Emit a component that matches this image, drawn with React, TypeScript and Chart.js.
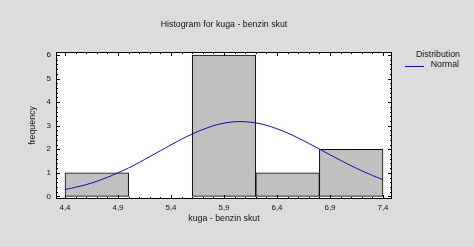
import React, { useEffect, useRef } from "react";
import { Chart, registerables } from "chart.js";

Chart.register(...registerables);

// ---- data ----
const binStarts = [4.4, 5.0, 5.6, 6.2, 6.8];
const binEnds = [5.0, 5.6, 6.2, 6.8, 7.4];
const counts = [1, 0, 6, 1, 2];

const curveX = [
  4.4, 4.5, 4.6, 4.7, 4.8, 4.9, 5.0, 5.1, 5.2, 5.3, 5.4, 5.5, 5.6, 5.7, 5.8, 5.9,
  6.0, 6.1, 6.2, 6.3, 6.4, 6.5, 6.6, 6.7, 6.8, 6.9, 7.0, 7.1, 7.2, 7.3, 7.4,
];
const curveY = [
  0.29, 0.39, 0.5, 0.64, 0.81, 1.0, 1.21, 1.44, 1.69, 1.94, 2.19, 2.43, 2.65, 2.84,
  3.0, 3.11, 3.17, 3.17, 3.12, 3.02, 2.87, 2.69, 2.48, 2.25, 2.01, 1.77, 1.53, 1.3,
  1.09, 0.89, 0.71,
];

const xTickValues = [4.4, 4.9, 5.4, 5.9, 6.4, 6.9, 7.4];
const xTickLabels = ["4,4", "4,9", "5,4", "5,9", "6,4", "6,9", "7,4"];
const yTickValues = [0, 1, 2, 3, 4, 5, 6];
const yTickLabels = ["0", "1", "2", "3", "4", "5", "6"];

const titleText = "Histogram for kuga - benzin skut";
const xAxisTitle = "kuga - benzin skut";
const yAxisTitle = "frequency";
const legendHeader = "Distribution";
const legendItem = "Normal";

const FONT = '"Liberation Sans", Arial, sans-serif';
const BG = "#dcdcdc";
const BAR_FILL = "#c0c0c0";
const CURVE = "#1010a8";

const decor = {
  id: "decor",
  beforeDraw(chart: any) {
    const { ctx, chartArea: a, width, height } = chart;
    ctx.save();
    ctx.fillStyle = BG;
    ctx.fillRect(0, 0, width, height);
    ctx.fillStyle = "#ffffff";
    ctx.fillRect(a.left, a.top, a.right - a.left, a.bottom - a.top);
    ctx.restore();
  },
  afterDraw(chart: any) {
    const { ctx, chartArea: a } = chart;
    const xs = chart.scales.x;
    const ys = chart.scales.y;
    ctx.save();
    ctx.strokeStyle = "#000";
    ctx.lineWidth = 1;
    // frame
    ctx.strokeRect(a.left + 0.5, a.top + 0.5, a.right - a.left - 1, a.bottom - a.top - 1);

    const line = (x1: number, y1: number, x2: number, y2: number) => {
      ctx.beginPath();
      ctx.moveTo(x1, y1);
      ctx.lineTo(x2, y2);
      ctx.stroke();
    };

    // x ticks (minor 0.1, major every 0.5 from 4.4)
    for (let i = 0; i <= 30; i++) {
      const v = 4.4 + i * 0.1;
      const px = Math.round(xs.getPixelForValue(v)) + 0.5;
      const len = i % 5 === 0 ? 4 : 2;
      line(px, a.bottom, px, a.bottom - len);
      line(px, a.top, px, a.top + len);
    }
    // y ticks (minor 0.2)
    for (let i = 0; i <= 30; i++) {
      const v = i * 0.2;
      const py = Math.round(ys.getPixelForValue(v)) + 0.5;
      const len = i % 5 === 0 ? 4 : 2;
      line(a.left, py, a.left + len, py);
      line(a.right, py, a.right - len, py);
    }

    ctx.fillStyle = "#111";
    ctx.font = `8px ${FONT}`;
    ctx.textBaseline = "middle";
    ctx.textAlign = "center";
    xTickValues.forEach((v, i) => {
      ctx.fillText(xTickLabels[i], xs.getPixelForValue(v), a.bottom + 9);
    });
    ctx.textAlign = "right";
    yTickValues.forEach((v, i) => {
      ctx.fillText(yTickLabels[i], a.left - 5, ys.getPixelForValue(v));
    });

    // title
    const cx = (a.left + a.right) / 2;
    ctx.font = `8.8px ${FONT}`;
    ctx.textAlign = "center";
    ctx.fillText(titleText, cx, 25);
    // x axis title
    ctx.fillText(xAxisTitle, cx, 219);
    // y axis title
    ctx.save();
    ctx.translate(33, (a.top + a.bottom) / 2);
    ctx.rotate(-Math.PI / 2);
    ctx.fillText(yAxisTitle, 0, 0);
    ctx.restore();

    // legend
    ctx.textAlign = "right";
    ctx.fillText(legendHeader, 460, 55);
    ctx.fillText(legendItem, 459, 65);
    ctx.strokeStyle = CURVE;
    line(405, 66.5, 424, 66.5);
    ctx.restore();
  },
};

export default function App() {
  const ref = useRef<HTMLCanvasElement | null>(null);
  useEffect(() => {
    document.body.style.margin = "0";
    const canvas = ref.current;
    if (!canvas) return;
    const chart = new Chart(canvas, {
      type: "bar",
      data: {
        datasets: [
          {
            type: "line",
            data: curveX.map((x, i) => ({ x, y: curveY[i] })),
            borderColor: CURVE,
            borderWidth: 1,
            pointRadius: 0,
            tension: 0.3,
            fill: false,
            order: 0,
          } as any,
          {
            type: "bar",
            data: counts.map((c, i) => ({ x: (binStarts[i] + binEnds[i]) / 2, y: c })),
            backgroundColor: BAR_FILL,
            borderColor: "#000",
            borderWidth: 1,
            borderSkipped: false,
            barPercentage: 1,
            categoryPercentage: 1,
            order: 1,
          } as any,
        ],
      },
      options: {
        animation: false,
        responsive: false,
        maintainAspectRatio: false,
        devicePixelRatio: 1,
        layout: { padding: { left: 56, right: 82, top: 52, bottom: 48 } },
        plugins: {
          legend: { display: false },
          title: { display: false },
          tooltip: { enabled: false },
        },
        scales: {
          x: {
            type: "linear",
            min: 4.315,
            max: 7.485,
            display: false,
            offset: false,
            afterBuildTicks: (s: any) => {
              s.ticks = binStarts.concat([binEnds[binEnds.length - 1]]).map((v) => ({ value: v }));
            },
          },
          y: { type: "linear", min: -0.11, max: 6.13, display: false },
        },
      },
      plugins: [decor],
    });
    return () => chart.destroy();
  }, []);
  return (
    <div style={{ width: 474, height: 247 }}>
      <canvas ref={ref} width={474} height={247} style={{ display: "block" }} />
    </div>
  );
}
